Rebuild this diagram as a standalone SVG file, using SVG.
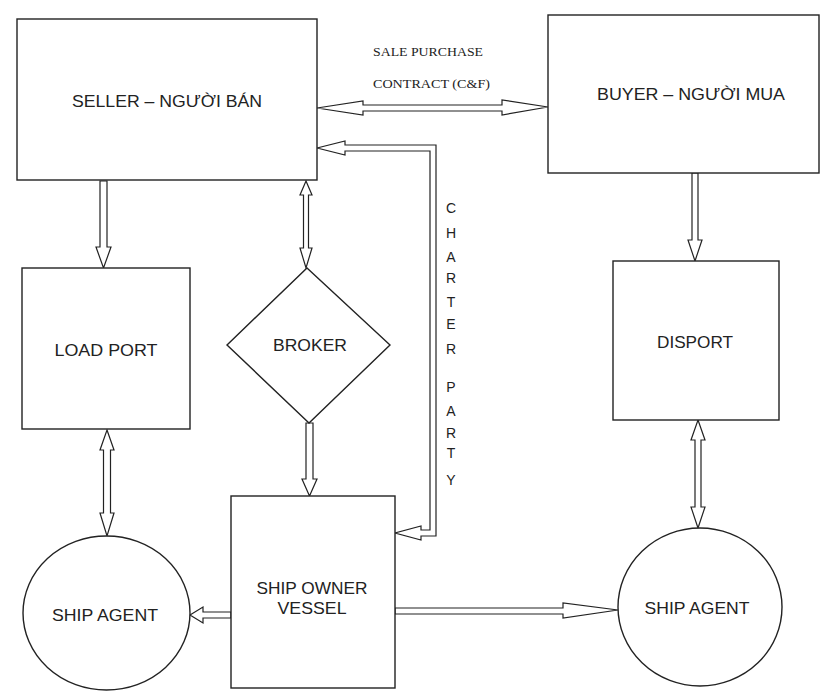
<svg xmlns="http://www.w3.org/2000/svg" width="822" height="691" viewBox="0 0 822 691">
<style>
.box{fill:#fff;stroke:#222;stroke-width:1.4}
.arr{fill:#fff;stroke:#222;stroke-width:1.2;stroke-linejoin:miter}
.lbl{font-family:"Liberation Sans",Arial,sans-serif;font-size:17px;fill:#222;text-anchor:middle}
.ser{font-family:"Liberation Serif","Times New Roman",serif;font-size:12.5px;fill:#222}
.cp{font-family:"Liberation Sans",Arial,sans-serif;font-size:14px;fill:#222;text-anchor:middle}
</style>
<rect width="822" height="691" fill="#fff"/>
<g id="connectors">
  <!-- sale purchase contract: seller <-> buyer -->
  <path class="arr" d="M317,108 L363,101 L363,105 L502,105 L502,100 L548,107 L502,115 L502,111 L363,111 L363,115 Z"/>
  <!-- charter party: seller <- ... -> ship owner -->
  <path class="arr" d="M317,148 L345,141 L345,145 L436,145 L436,536 L421,536 L421,540 L395,533 L421,526 L421,530 L430,530 L430,151 L345,151 L345,155 Z"/>
  <!-- seller -> load port -->
  <path class="arr" d="M100,181 L100,247 L96,247 L103.5,268 L111,247 L107,247 L107,181 Z"/>
  <!-- seller <-> broker -->
  <path class="arr" d="M306,181 L312,195 L308.5,195 L308.5,248 L312,248 L306,268 L300,248 L303.5,248 L303.5,195 L300,195 Z"/>
  <!-- broker -> ship owner -->
  <path class="arr" d="M306,423 L306,479 L302,479 L309.5,496 L317,479 L313,479 L313,423 Z"/>
  <!-- load port <-> ship agent -->
  <path class="arr" d="M107,430 L114,450 L110.5,450 L110.5,513 L114,513 L107,536 L100,513 L103.5,513 L103.5,450 L100,450 Z"/>
  <!-- ship owner -> left ship agent -->
  <path class="arr" d="M231,612 L203,612 L203,607 L190,615 L203,623 L203,618 L231,618 Z"/>
  <!-- ship owner -> right ship agent -->
  <path class="arr" d="M395,608 L563,608 L563,603 L618,610 L563,618 L563,614 L395,614 Z"/>
  <!-- buyer -> disport -->
  <path class="arr" d="M692,173 L692,240 L688,240 L695,261 L702,240 L698,240 L698,173 Z"/>
  <!-- disport <-> ship agent -->
  <path class="arr" d="M698,420 L705,440 L701,440 L701,507 L705,507 L698,528 L691,507 L695,507 L695,440 L691,440 Z"/>
</g>
<g id="contract-label">
  <text class="ser" x="373" y="56" textLength="110" lengthAdjust="spacingAndGlyphs">SALE PURCHASE</text>
  <text class="ser" x="373" y="88" textLength="117" lengthAdjust="spacingAndGlyphs">CONTRACT (C&amp;F)</text>
</g>
<g id="charter-label">
  <text class="cp" x="451" y="213">C</text>
  <text class="cp" x="451" y="238">H</text>
  <text class="cp" x="451" y="262">A</text>
  <text class="cp" x="451" y="283">R</text>
  <text class="cp" x="451" y="307">T</text>
  <text class="cp" x="451" y="329">E</text>
  <text class="cp" x="451" y="354">R</text>
  <text class="cp" x="451" y="392">P</text>
  <text class="cp" x="451" y="416">A</text>
  <text class="cp" x="451" y="438">R</text>
  <text class="cp" x="451" y="458">T</text>
  <text class="cp" x="451" y="485">Y</text>
</g>
<g id="seller">
  <rect class="box" x="17" y="19" width="300" height="161"/>
  <text class="lbl" x="167" y="107" textLength="190" lengthAdjust="spacingAndGlyphs">SELLER – NGƯỜI BÁN</text>
</g>
<g id="buyer">
  <rect class="box" x="548" y="15" width="271" height="158"/>
  <text class="lbl" x="691" y="100" textLength="188" lengthAdjust="spacingAndGlyphs">BUYER – NGƯỜI MUA</text>
</g>
<g id="load-port">
  <rect class="box" x="22" y="268" width="168" height="161"/>
  <text class="lbl" x="106" y="356" textLength="103" lengthAdjust="spacingAndGlyphs">LOAD PORT</text>
</g>
<g id="broker">
  <polygon class="box" points="307,268 390,345 309,423 227,345"/>
  <text class="lbl" x="310" y="351" textLength="74" lengthAdjust="spacingAndGlyphs">BROKER</text>
</g>
<g id="disport">
  <rect class="box" x="613" y="261" width="166" height="159"/>
  <text class="lbl" x="695" y="348" textLength="76" lengthAdjust="spacingAndGlyphs">DISPORT</text>
</g>
<g id="ship-owner">
  <rect class="box" x="231" y="496" width="164" height="192"/>
  <text class="lbl" x="312" y="594" textLength="111" lengthAdjust="spacingAndGlyphs">SHIP OWNER</text>
  <text class="lbl" x="312" y="614" textLength="69" lengthAdjust="spacingAndGlyphs">VESSEL</text>
</g>
<g id="ship-agent-left">
  <ellipse class="box" cx="106.5" cy="613" rx="83.5" ry="77"/>
  <text class="lbl" x="105" y="621" textLength="106" lengthAdjust="spacingAndGlyphs">SHIP AGENT</text>
</g>
<g id="ship-agent-right">
  <ellipse class="box" cx="700" cy="607" rx="82" ry="79"/>
  <text class="lbl" x="697" y="614" textLength="105" lengthAdjust="spacingAndGlyphs">SHIP AGENT</text>
</g>
</svg>
